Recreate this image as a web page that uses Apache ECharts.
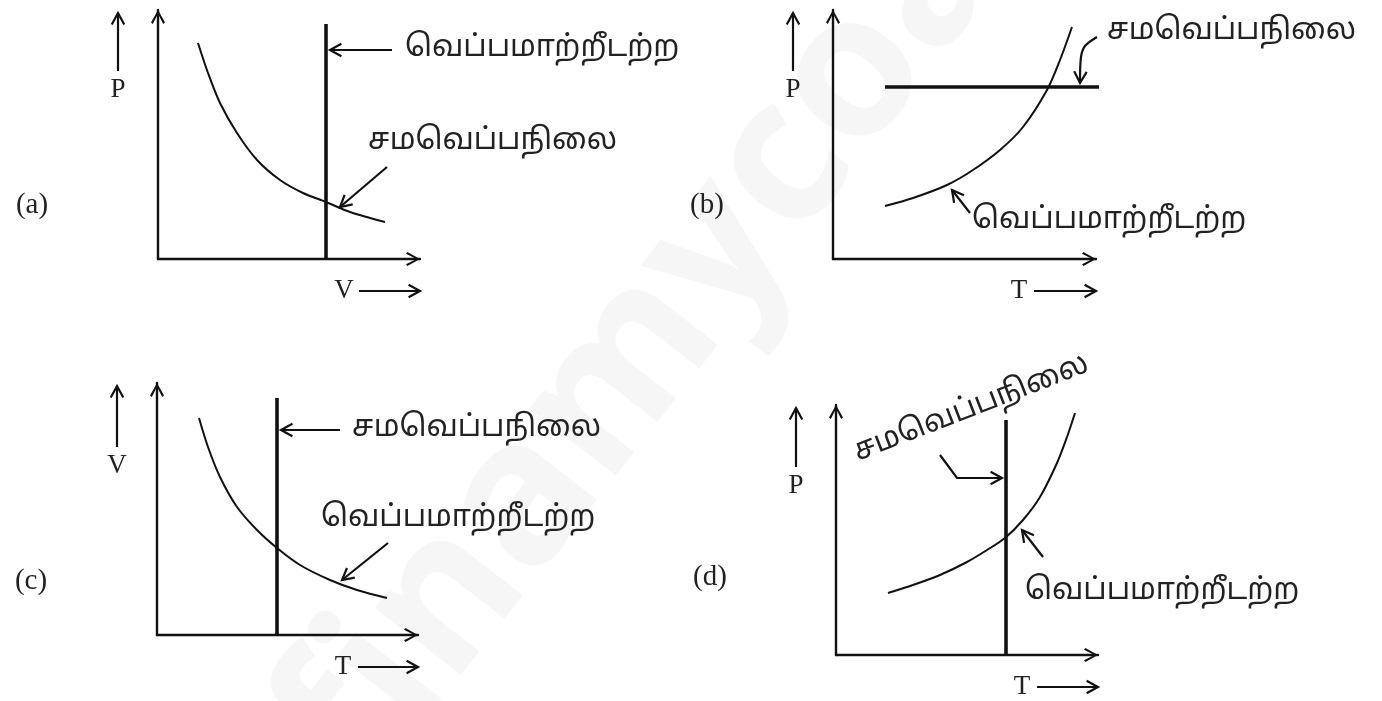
<!DOCTYPE html>
<html lang="ta">
<head>
<meta charset="UTF-8">
<title>Adiabatic / isothermal</title>
<style type="text/css">
    html, body {
        margin: 0;
        padding: 0;
        background: #fff;
    }
    #main {
        width: 1382px;
        height: 701px;
    }
</style>
</head>
<body>
<div id="main"></div>
<script src="https://cdn.jsdelivr.net/npm/echarts@6/dist/echarts.min.js"></script>
<script type="text/javascript">

// words used on the figure
var adiabatic = 'வெப்பமாற்றீடற்ற';
var isothermal = 'சமவெப்பநிலை';
var panelNames = ['(a)', '(b)', '(c)', '(d)'];
var yNames = ['P', 'P', 'V', 'P'];
var xNames = ['V', 'T', 'T', 'T'];

// curves (units = px from each panel's origin)
var curveA = [[40, 216], [50, 186], [62, 156], [79, 126], [99, 99], [122, 79], [145, 66], [168, 57], [192, 47], [227, 37]];
var curveB = [[52, 53], [80, 61], [114, 74], [140, 89], [167, 109], [190, 132], [214, 169], [227, 199], [239, 232]];
var curveC = [[42, 217], [51, 188], [63, 158], [80, 128], [100, 105], [120, 87], [143, 70], [173, 55], [200, 45], [230, 37]];
var curveD = [[52, 62], [77, 70], [104, 80], [131, 93], [151, 105], [169, 117], [187, 135], [204, 158], [221, 192], [231, 218], [239, 242]];

// the straight thick line of each panel
var lineA = [[168, 0], [168, 235]];
var lineB = [[52, 172], [289, 172]];
var lineC = [[120, 0], [120, 237]];
var lineD = [[170, 0], [170, 235]];

// pointer arrows (last point = tip)
var pointA = [[[234, 209], [172, 209]], [[229, 92], [182, 52]]];
var pointB = [[[264, 222], [252, 213], [248, 202], [247, 176]], [[137, 46], [119, 69]]];
var pointC = [[[183, 205], [124, 205]], [[231, 92], [185, 55]]];
var pointD = [[[104, 200], [121, 177], [166, 177]], [[207, 98], [186, 125]]];

// label anchors and texts
var noteA = [[247, 209], [210, 116]];
var noteB = [[274, 226], [139, 37]];
var noteC = [[195, 205], [164, 115]];
var noteD = [[136, 245], [189, 62]];
var noteTextA = [adiabatic, isothermal];
var noteTextB = [isothermal, adiabatic];
var noteTextC = [isothermal, adiabatic];
var noteTextD = [isothermal, adiabatic];
var noteRotD = [0.37, 0];

var grids = [
    { left: 158, top: 10, width: 262, height: 249 },
    { left: 833, top: 10, width: 263, height: 249 },
    { left: 157, top: 383, width: 261, height: 252 },
    { left: 836, top: 405, width: 262, height: 250 }
];

var ink = '#111';
var tamilFont = '"Noto Sans Tamil", "Lohit Tamil", "Noto Sans", sans-serif';
var serifFont = '"Liberation Serif", "DejaVu Serif", serif';
var chevron = 'path://M5,0 L10,9 L8.7,10 L5,2.6 L1.3,10 L0,9 Z';

function axisLine() {
    return {
        show: true,
        onZero: false,
        symbol: ['none', chevron],
        symbolSize: [16, 14],
        symbolOffset: [0, -7],
        lineStyle: { color: ink, width: 2.4 }
    };
}

var xAxes = [], yAxes = [];
grids.forEach(function (g) {
    xAxes.push({
        type: 'value', gridIndex: xAxes.length, min: 0, max: g.width,
        axisLine: axisLine(), axisTick: { show: false }, axisLabel: { show: false }, splitLine: { show: false }
    });
    yAxes.push({
        type: 'value', gridIndex: yAxes.length, min: 0, max: g.height,
        axisLine: axisLine(), axisTick: { show: false }, axisLabel: { show: false }, splitLine: { show: false }
    });
});

function arrowRender(paths, smooth) {
    return function (params, api) {
        var pts = paths[params.dataIndex].map(function (p) { return api.coord(p); });
        var tip = pts[pts.length - 1], prev = pts[pts.length - 2];
        var ang = Math.atan2(tip[1] - prev[1], tip[0] - prev[0]);
        var L = 13, spread = 0.5;
        var head = [
            [tip[0] - L * Math.cos(ang - spread), tip[1] - L * Math.sin(ang - spread)],
            tip,
            [tip[0] - L * Math.cos(ang + spread), tip[1] - L * Math.sin(ang + spread)]
        ];
        return {
            type: 'group',
            children: [
                { type: 'polyline', shape: { points: pts, smooth: smooth ? 0.3 : 0 }, style: { stroke: ink, lineWidth: 2.2, fill: null } },
                { type: 'polyline', shape: { points: head }, style: { stroke: ink, lineWidth: 2.2, fill: null } }
            ]
        };
    };
}

function textRender(texts, fonts, aligns, rots) {
    return function (params, api) {
        var p = api.coord([api.value(0), api.value(1)]);
        var i = params.dataIndex;
        return {
            type: 'text',
            x: p[0], y: p[1],
            rotation: rots ? rots[i] : 0,
            style: {
                text: texts[i],
                font: fonts[i],
                fill: '#222',
                align: aligns[i],
                verticalAlign: 'middle'
            }
        };
    };
}

var curves = [curveA, curveB, curveC, curveD];
var lines = [lineA, lineB, lineC, lineD];
var pointers = [pointA, pointB, pointC, pointD];
var notes = [noteA, noteB, noteC, noteD];
var noteTexts = [noteTextA, noteTextB, noteTextC, noteTextD];

var series = [];
curves.forEach(function (c, i) {
    series.push({
        type: 'line', xAxisIndex: i, yAxisIndex: i, data: c,
        smooth: 0.3, showSymbol: false, silent: true,
        lineStyle: { color: ink, width: 2 }
    });
    series.push({
        type: 'line', xAxisIndex: i, yAxisIndex: i, data: lines[i],
        showSymbol: false, silent: true, clip: false,
        lineStyle: { color: ink, width: 3.6 }
    });

    // axis-direction arrows beside the axes
    var g = grids[i];
    var side = [[[-40, 188], [-40, g.height - 3]], [[201, -32], [g.width, -32]]];
    var paths = pointers[i].concat(side);
    series.push({
        type: 'custom', xAxisIndex: i, yAxisIndex: i, clip: false, silent: true,
        data: paths.map(function (p) { return p[p.length - 1]; }),
        renderItem: arrowRender(paths, i === 1)
    });

    var pos = notes[i].concat([[-40, 169], [186, -32], [-126, i === 3 ? 78 : 54]]);
    var txt = noteTexts[i].concat([yNames[i], xNames[i], panelNames[i]]);
    var fonts = ['30px ' + tamilFont, '30px ' + tamilFont, '27px ' + serifFont, '27px ' + serifFont, '29px ' + serifFont];
    var aligns = ['left', 'left', 'center', 'center', 'center'];
    if (i === 3) aligns[0] = 'center';
    series.push({
        type: 'custom', xAxisIndex: i, yAxisIndex: i, clip: false, silent: true,
        data: pos,
        renderItem: textRender(txt, fonts, aligns, i === 3 ? noteRotD.concat([0, 0, 0]) : null)
    });
});

var chart = echarts.init(document.getElementById('main'));
chart.setOption({
    animation: false,
    backgroundColor: '#fff',
    graphic: [{
        type: 'text',
        x: 715, y: 255,
        rotation: 0.91,
        z: -10,
        silent: true,
        style: {
            text: 'finamycoach',
            font: 'bold 200px "Open Sans", sans-serif',
            fill: '#f6f6f6',
            align: 'center',
            verticalAlign: 'middle'
        }
    }],
    grid: grids,
    xAxis: xAxes,
    yAxis: yAxes,
    series: series
});
</script>
</body>
</html>
